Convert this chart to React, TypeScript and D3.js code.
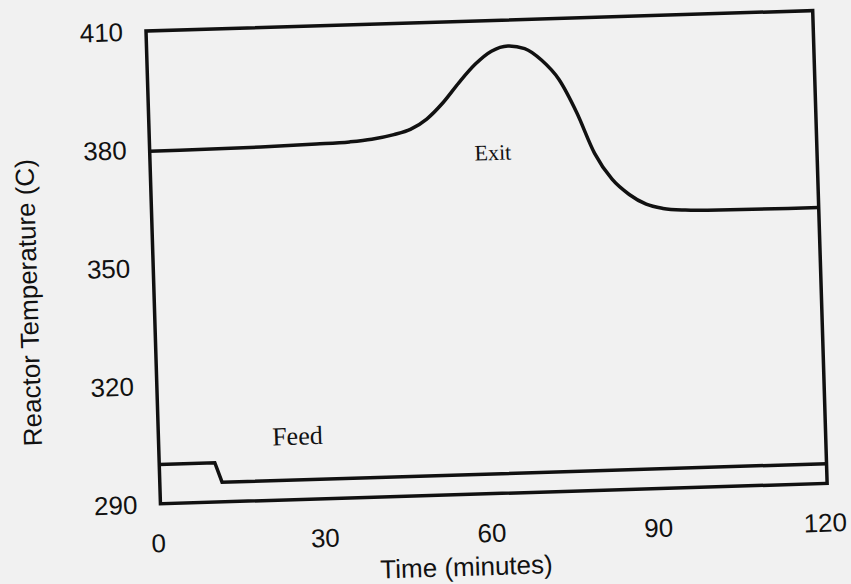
import * as d3 from "d3"
import React from "react"

// Exit temperature
const exitTime = [0, 20, 30, 36, 40, 44, 47, 50, 53, 56, 59, 62, 65, 68, 71, 74, 77, 80, 83, 86, 89, 92, 96, 100, 120]
const exitTemp = [379.5, 379.7, 380, 380.3, 380.8, 381.8, 383, 385.5, 389.5, 394.5, 399, 402.2, 403.4, 402.6, 399.5, 394.5, 386, 375.5, 368.8, 364.8, 362.2, 361, 360.4, 360.2, 360]

// Feed temperature
const feedTime = [0, 10, 11.2, 120]
const feedTemp = [300, 300, 295, 295]

const xTicks = [0, 30, 60, 90, 120]
const yTicks = [290, 320, 350, 380, 410]

const W = 851
const H = 584
const plotW = 667
const plotH = 473

const sans = "'Liberation Sans', Arial, Helvetica, sans-serif"
const serif = "'Liberation Serif', 'Times New Roman', serif"

const App = () => {
    const x = d3.scaleLinear().domain([0, 120]).range([0, plotW])
    const y = d3.scaleLinear().domain([290, 410]).range([plotH, 0])

    const exitPath = d3.line<[number, number]>()
        .x(d => x(d[0]))
        .y(d => y(d[1]))
        .curve(d3.curveMonotoneX)(exitTime.map((t, i) => [t, exitTemp[i]]))
    const feedPath = d3.line<[number, number]>()
        .x(d => x(d[0]))
        .y(d => y(d[1]))
        .curve(d3.curveLinear)(feedTime.map((t, i) => [t, feedTemp[i]]))

    // the page is a slightly tilted scan, so the whole plot is turned a bit
    return (
        <svg width={W} height={H} style={{ position: "absolute", left: 0, top: 0, background: "#f1f1f1" }}>
            <g transform="translate(146,31) rotate(-1.75)">
                <rect x={0} y={0} width={plotW} height={plotH} fill="none" stroke="#111" strokeWidth={3.5} />
                <path d={exitPath ?? ""} fill="none" stroke="#111" strokeWidth={3.5} />
                <path d={feedPath ?? ""} fill="none" stroke="#111" strokeWidth={3.5} />

                {yTicks.map(t => (
                    <text key={t} x={-23} y={y(t)} dy="0.36em" textAnchor="end"
                        fontFamily={sans} fontSize={26} fill="#111">{t}</text>
                ))}
                {xTicks.map(t => (
                    <text key={t} x={x(t) - 3} y={plotH + 39} dy="0.36em" textAnchor="middle"
                        fontFamily={sans} fontSize={26} fill="#111">{t}</text>
                ))}

                <text x={304} y={plotH + 72} dy="0.36em" textAnchor="middle"
                    fontFamily={sans} fontSize={26} fill="#111">Time (minutes)</text>
                <text transform={`translate(-126,268) rotate(-90)`} dy="0.36em" textAnchor="middle"
                    fontFamily={sans} fontSize={26} fill="#111">Reactor Temperature (C)</text>

                <text x={x(61.7)} y={y(376.6)} dy="0.36em" textAnchor="middle"
                    fontFamily={serif} fontSize={22} fill="#111">Exit</text>
                <text x={x(25)} y={y(306.3)} dy="0.36em" textAnchor="middle"
                    fontFamily={serif} fontSize={26} fill="#111">Feed</text>
            </g>
        </svg>
    )
}

export default App
